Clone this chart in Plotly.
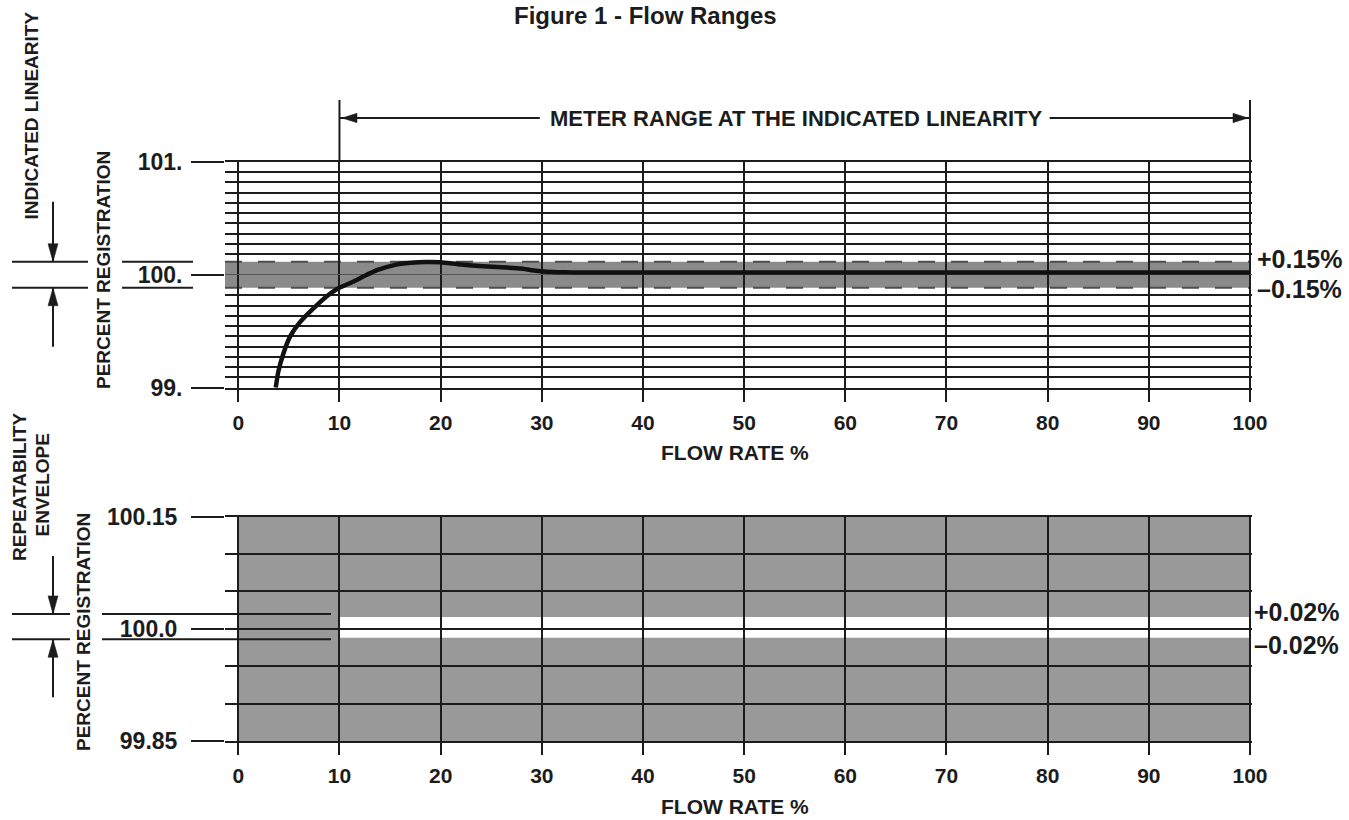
import plotly.graph_objects as go

# ---------------- data ----------------
flow_ticks = [0, 10, 20, 30, 40, 50, 60, 70, 80, 90, 100]
flow_ticktext = ["0", "10", "20", "30", "40", "50", "60", "70", "80", "90", "100"]

top_major = [99.0, 100.0, 101.0]
top_major_text = ["99.", "100.", "101."]
top_grid = [100.909, 100.818, 100.727, 100.636, 100.545, 100.455, 100.364, 100.273, 100.182,
            99.818, 99.727, 99.636, 99.545, 99.455, 99.364, 99.273, 99.182, 99.091]
linearity_band = [99.885, 100.115]
linearity_labels = ["\u20130.15%", "+0.15%"]

curve_x = [3.7, 3.95, 4.45, 5.1, 6.1, 7.4, 8.75, 9.9, 11.4, 12.5, 13.7, 15.4, 17.0, 18.6,
           20.0, 22.0, 24.2, 26.0, 27.9, 29.0, 30.2, 31.5, 33.0, 35.0, 40, 50, 60, 70, 80, 90, 100]
curve_y = [99.0, 99.14, 99.30, 99.45, 99.58, 99.70, 99.81, 99.88, 99.94, 99.99, 100.04, 100.085,
           100.105, 100.113, 100.11, 100.09, 100.075, 100.065, 100.055, 100.04, 100.028, 100.022,
           100.02, 100.02, 100.02, 100.02, 100.02, 100.02, 100.02, 100.02, 100.02]

bottom_major = [99.85, 100.0, 100.15]
bottom_major_text = ["99.85", "100.0", "100.15"]
bottom_grid = [99.90, 99.95, 100.05, 100.10]
repeat_band = [99.988, 100.016]
repeat_callout = [99.986, 100.020]
repeat_labels = ["\u20130.02%", "+0.02%"]
repeat_start = 10
meter_range = [10, 100]

# ---------------- styling / layout helpers ----------------
W, H = 1349, 820
INK = "#1c1c1c"
FONT = "Liberation Sans, Arial, Helvetica, sans-serif"


def PX(px):
    return px / W


def PY(py):
    return 1 - py / H


K = (1250 - 238.3) / 100.0          # pixels per flow unit
X_LO = -(238.3 - 225) / K
X_HI = 100.15
X_DOMAIN = [PX(225), PX(238.3 + X_HI * K)]

fig = go.Figure()
fig.add_trace(go.Scatter(x=curve_x, y=curve_y, mode="lines", xaxis="x", yaxis="y",
                         line=dict(color="#111111", width=4.5, shape="spline", smoothing=0.5),
                         hoverinfo="skip", showlegend=False))

xcommon = dict(range=[X_LO, X_HI], domain=X_DOMAIN, tickmode="array", tickvals=flow_ticks,
               ticktext=flow_ticktext, ticks="outside", ticklen=12, tickwidth=2, tickcolor=INK,
               showgrid=True, gridcolor=INK, gridwidth=2, zeroline=False, showline=True,
               mirror=True, linecolor=INK, linewidth=2, fixedrange=True, automargin=False,
               tickfont=dict(family=FONT, size=21, color=INK, weight="bold"),
               ticklabelstandoff=3)


def ycommon(rng, dom, tv, tt, grid, gw, gc, standoff):
    return dict(range=rng, domain=dom, tickmode="array", tickvals=tv, ticktext=tt,
                ticks="outside", ticklen=33, tickwidth=1.6, tickcolor=INK,
                showgrid=True, gridcolor=gc, gridwidth=gw, zeroline=False, showline=False,
                fixedrange=True, automargin=False,
                minor=dict(tickmode="array", tickvals=grid, showgrid=True, gridcolor=INK,
                           gridwidth=2, ticks=""),
                tickfont=dict(family=FONT, size=23, color=INK, weight="bold"),
                ticklabelstandoff=standoff)


shapes = []
# indicated-linearity envelope (top)
shapes.append(dict(type="rect", xref="x", yref="y", x0=X_LO, x1=100,
                   y0=linearity_band[0], y1=linearity_band[1],
                   fillcolor="#8a8a8a", line=dict(width=0), layer="below"))
for yv in linearity_band:
    shapes.append(dict(type="line", xref="x", yref="y", x0=X_LO, x1=100, y0=yv, y1=yv,
                       line=dict(color="#4d4d4d", width=2, dash="17px,16px"), layer="below"))
# repeatability shading (bottom)
shapes.append(dict(type="rect", xref="x2", yref="y2", x0=0, x1=100,
                   y0=bottom_major[0], y1=bottom_major[-1],
                   fillcolor="#999999", line=dict(width=0), layer="below"))
shapes.append(dict(type="rect", xref="x2", yref="y2", x0=repeat_start, x1=100,
                   y0=repeat_band[0], y1=repeat_band[1],
                   fillcolor="#ffffff", line=dict(width=0), layer="below"))

# meter range extension lines
for xv in meter_range:
    shapes.append(dict(type="line", xref="x", yref="y domain", x0=xv, x1=xv, y0=1,
                       y1=(387.7 - 100) / 226.0, line=dict(color=INK, width=2)))


def head(xref, yref, xa, ya, path):
    return dict(type="path", xref=xref, yref=yref, xsizemode="pixel", ysizemode="pixel",
                xanchor=xa, yanchor=ya, path=path, fillcolor=INK,
                line=dict(color=INK, width=0.5), layer="above")


LEFT = "M0,0 L15,4.7 L15,-4.7 Z"
RIGHT = "M0,0 L-15,4.7 L-15,-4.7 Z"
DOWN = "M0,0 L-5,18 L5,18 Z"
UP = "M0,0 L-5,-18 L5,-18 Z"

ARROW_Y = PY(118)
shapes.append(dict(type="line", xref="x", yref="paper", x0=meter_range[0], x1=29.8,
                   y0=ARROW_Y, y1=ARROW_Y, line=dict(color=INK, width=2)))
shapes.append(dict(type="line", xref="x", yref="paper", x0=80.2, x1=meter_range[1],
                   y0=ARROW_Y, y1=ARROW_Y, line=dict(color=INK, width=2)))
shapes.append(head("x", "paper", meter_range[0] + 0.25, ARROW_Y, LEFT))
shapes.append(head("x", "paper", meter_range[1] - 0.2, ARROW_Y, RIGHT))


def callout(yref, levels, left_seg, right_seg, down_len, up_len):
    out = []
    for yv in levels:
        for seg in (left_seg, right_seg):
            out.append(dict(type="line", xref="paper", yref=yref, x0=PX(seg[0]), x1=PX(seg[1]),
                            y0=yv, y1=yv, line=dict(color=INK, width=2), layer="above"))
    out.append(dict(type="line", xref="paper", yref=yref, ysizemode="pixel", yanchor=levels[1],
                    x0=PX(53), x1=PX(53), y0=0, y1=down_len, line=dict(color=INK, width=2)))
    out.append(head("paper", yref, PX(53), levels[1], DOWN))
    out.append(dict(type="line", xref="paper", yref=yref, ysizemode="pixel", yanchor=levels[0],
                    x0=PX(53), x1=PX(53), y0=0, y1=-up_len, line=dict(color=INK, width=2)))
    out.append(head("paper", yref, PX(53), levels[0], UP))
    return out


shapes += callout("y", linearity_band, (12, 88), (122, 193), 60, 59)
shapes += callout("y2", repeat_callout, (12, 70), (102, 331), 58, 58)

annotations = []


def txt(text, x, y, size, angle=0, xanchor="center", yanchor="middle", xref="paper",
        yref="paper", yshift=0):
    annotations.append(dict(text=text, x=x, y=y, xref=xref, yref=yref, showarrow=False,
                            xanchor=xanchor, yanchor=yanchor, textangle=angle, yshift=yshift,
                            font=dict(family=FONT, size=size, color=INK, weight="bold")))


txt("Figure 1 - Flow Ranges", PX(645), PY(0), 24, yanchor="top")
txt("METER RANGE AT THE INDICATED LINEARITY", PX(796.5), PY(118), 22)
txt("INDICATED LINEARITY", PX(30.5), PY(116), 19, angle=-90)
txt("PERCENT REGISTRATION", PX(103), PY(270), 19, angle=-90)
txt("REPEATABILITY", PX(19), PY(487), 19, angle=-90)
txt("ENVELOPE", PX(41.5), PY(485), 19, angle=-90)
txt("PERCENT REGISTRATION", PX(83), PY(632), 19, angle=-90)
txt("FLOW RATE %", PX(735), PY(452), 21)
txt("FLOW RATE %", PX(735), PY(820), 21, yanchor="bottom")
txt(linearity_labels[1], PX(1255), linearity_band[1], 25, xanchor="left", yref="y", yshift=3)
txt(linearity_labels[0], PX(1255), linearity_band[0], 25, xanchor="left", yref="y", yshift=-1.5)
txt(repeat_labels[1], PX(1252), repeat_band[1], 25, xanchor="left", yref="y2", yshift=5)
txt(repeat_labels[0], PX(1252), repeat_band[0], 25, xanchor="left", yref="y2", yshift=-7)

fig.update_layout(
    width=W, height=H, margin=dict(l=0, r=0, t=0, b=0, pad=0, autoexpand=False),
    paper_bgcolor="white", plot_bgcolor="white", showlegend=False,
    xaxis=dict(xcommon, anchor="y"),
    xaxis2=dict(xcommon, anchor="y2"),
    yaxis=dict(ycommon([99, 101], [PY(387.7), PY(161.7)], top_major, top_major_text,
                       top_grid, 1, "#555555", 4), anchor="x"),
    yaxis2=dict(ycommon([99.85, 100.15], [PY(741), PY(516.7)], bottom_major, bottom_major_text,
                        bottom_grid, 2, INK, 9), anchor="x2"),
    shapes=shapes, annotations=annotations,
)

fig.write_html("out.html", config=dict(displayModeBar=False),
               post_script="document.body.style.margin='0';document.body.style.overflow='hidden';")
